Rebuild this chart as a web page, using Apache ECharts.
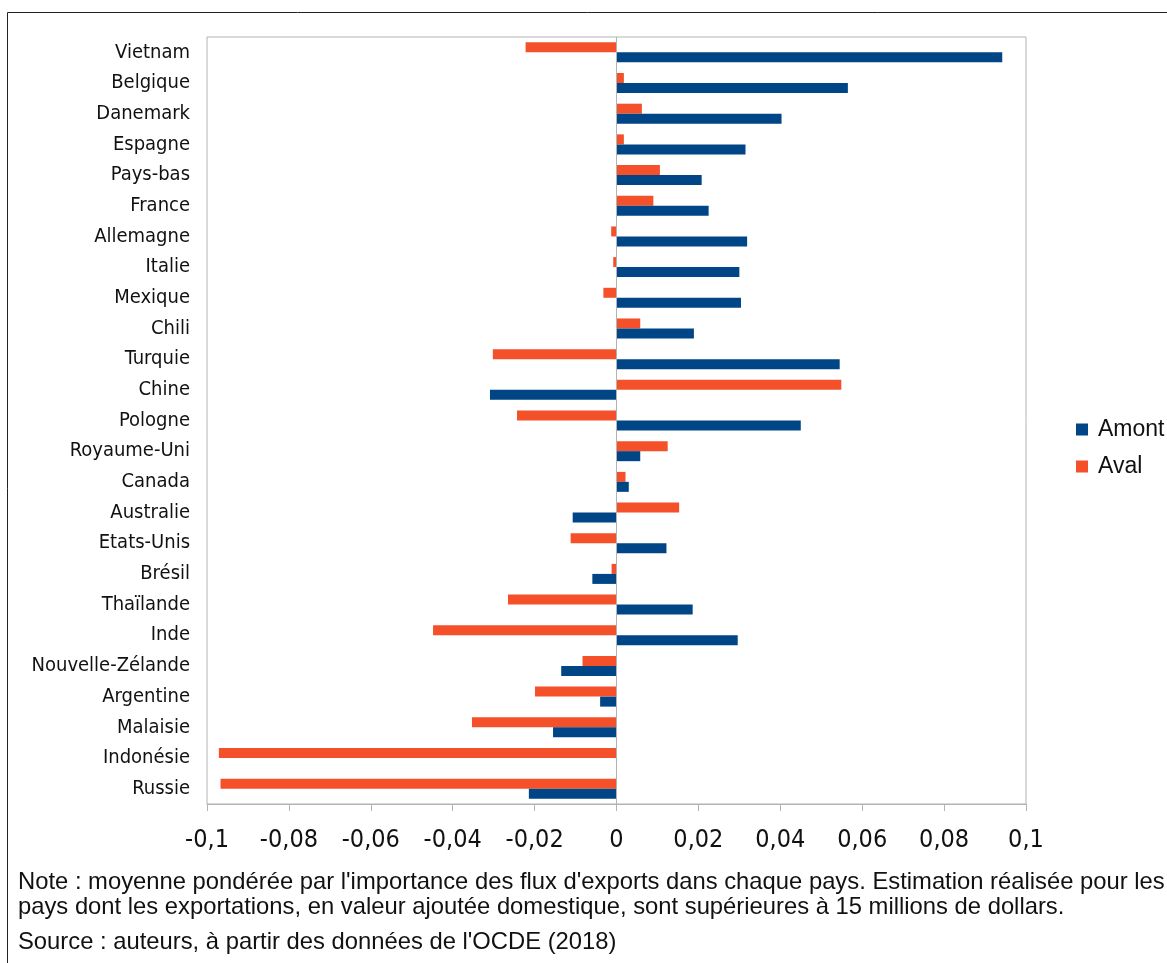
<!DOCTYPE html>
<html>
<head>
<meta charset="utf-8">
<style>
  html, body { margin: 0; padding: 0; background: #ffffff; }
  #chart { width: 1167px; height: 963px; }
</style>
<script src="https://cdn.jsdelivr.net/npm/echarts@6/dist/echarts.min.js"></script>
</head>
<body>
<div id="chart"></div>
<script>
// Pays, du haut vers le bas
const categories = ['Vietnam', 'Belgique', 'Danemark', 'Espagne', 'Pays-bas', 'France', 'Allemagne', 'Italie',
  'Mexique', 'Chili', 'Turquie', 'Chine', 'Pologne', 'Royaume-Uni', 'Canada', 'Australie', 'Etats-Unis',
  'Brésil', 'Thaïlande', 'Inde', 'Nouvelle-Zélande', 'Argentine', 'Malaisie', 'Indonésie', 'Russie'];

// Effets amont
const amont = [0.0942, 0.0565, 0.0403, 0.0315, 0.0208, 0.0225, 0.0319, 0.0300, 0.0304, 0.0189, 0.0545, -0.0309,
  0.0450, 0.0058, 0.0030, -0.0107, 0.0122, -0.0059, 0.0186, 0.0296, -0.0135, -0.0040, -0.0155, 0, -0.0214];

// Effets aval
const aval = [-0.0222, 0.0018, 0.0062, 0.0018, 0.0106, 0.0090, -0.0013, -0.0008, -0.0032, 0.0058, -0.0302, 0.0549,
  -0.0243, 0.0125, 0.0022, 0.0153, -0.0112, -0.0012, -0.0265, -0.0448, -0.0083, -0.0199, -0.0353, -0.0971, -0.0967];

const xMin = -0.1, xMax = 0.1, xStep = 0.02;

const noteLines = [
  "Note : moyenne pondérée par l'importance des flux d'exports dans chaque pays. Estimation réalisée pour les",
  "pays dont les exportations, en valeur ajoutée domestique, sont supérieures à 15 millions de dollars."
];
const sourceLine = "Source : auteurs, à partir des données de l'OCDE (2018)";

const BLUE = '#004586';
const ORANGE = '#f4512b';
const GREY = '#b3b3b3';
const NARROW = '"DejaVu Sans Condensed", "Liberation Sans", sans-serif';
const SANS = '"Liberation Sans", Arial, sans-serif';

const fmt = v => {
  const r = Math.round(v * 100) / 100;
  return String(r).replace('.', ',');
};

const chart = echarts.init(document.getElementById('chart'), null, { renderer: 'canvas' });

chart.setOption({
  backgroundColor: '#ffffff',
  animation: false,
  grid: {
    left: 207, top: 37, right: 141, bottom: 159,
    show: true, borderColor: GREY, borderWidth: 1, backgroundColor: 'transparent'
  },
  legend: {
    orient: 'vertical',
    left: 1071, top: 413,
    data: ['Amont', 'Aval'],
    icon: 'rect',
    itemWidth: 12, itemHeight: 12,
    itemGap: 14,
    textStyle: { fontFamily: SANS, fontSize: 23, color: '#111', padding: [0, 0, 0, 5] }
  },
  xAxis: {
    type: 'value',
    min: xMin, max: xMax, interval: xStep,
    axisLine: { show: true, onZero: false, lineStyle: { color: GREY, width: 1 } },
    axisTick: { show: true, length: 7, lineStyle: { color: GREY } },
    splitLine: { show: false },
    axisLabel: { formatter: fmt, fontFamily: NARROW, fontSize: 25, color: '#111', margin: 24 }
  },
  yAxis: {
    type: 'category',
    inverse: true,
    data: categories,
    axisLine: { show: false },
    axisTick: { show: false },
    axisLabel: { fontFamily: NARROW, fontSize: 20, color: '#111', margin: 17 }
  },
  series: [
    {
      name: 'Aval', type: 'bar', data: aval,
      barWidth: 10, barGap: '0%',
      itemStyle: { color: ORANGE },
      markLine: {
        silent: true, symbol: 'none', label: { show: false },
        lineStyle: { color: GREY, type: 'solid', width: 1 },
        data: [{ xAxis: 0 }]
      }
    },
    {
      name: 'Amont', type: 'bar', data: amont,
      barWidth: 10, barGap: '0%',
      itemStyle: { color: BLUE }
    }
  ],
  graphic: [
    {
      type: 'rect', silent: true,
      shape: { x: 7.5, y: 12.5, width: 1300, height: 1100 },
      style: { fill: 'none', stroke: '#222', lineWidth: 1 }
    },
    {
      type: 'text', left: 18, top: 870, silent: true,
      style: { text: noteLines.join('\n'), fontFamily: SANS, fontSize: 23.8, lineHeight: 25, fill: '#111' }
    },
    {
      type: 'text', left: 18, top: 930, silent: true,
      style: { text: sourceLine, fontFamily: SANS, fontSize: 23.8, fill: '#111' }
    }
  ]
});
</script>
</body>
</html>
